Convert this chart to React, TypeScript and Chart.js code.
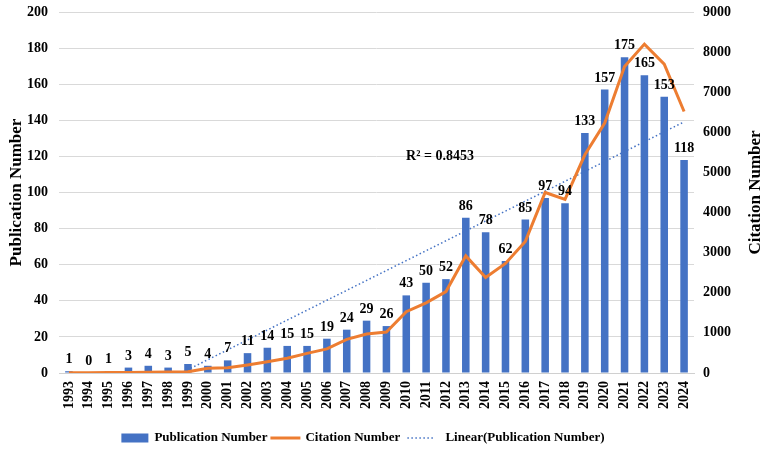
import React, { useEffect, useRef } from "react";
import { Chart, registerables } from "chart.js";

Chart.register(...registerables);

const years = [
  "1993", "1994", "1995", "1996", "1997", "1998", "1999", "2000",
  "2001", "2002", "2003", "2004", "2005", "2006", "2007", "2008",
  "2009", "2010", "2011", "2012", "2013", "2014", "2015", "2016",
  "2017", "2018", "2019", "2020", "2021", "2022", "2023", "2024",
];

const publications = [
  1, 0, 1, 3, 4, 3, 5, 4, 7, 11, 14, 15, 15, 19, 24, 29,
  26, 43, 50, 52, 86, 78, 62, 85, 97, 94, 133, 157, 175, 165, 153, 118,
];

const citations = [
  5, 5, 10, 15, 20, 25, 30, 120, 130, 200, 280, 370, 490, 600, 840, 970,
  1020, 1530, 1750, 2030, 2920, 2380, 2730, 3280, 4500, 4330, 5440, 6230, 7640, 8200, 7700, 6520,
];

const r2Label = "R² = 0.8453";

const FONT_FAMILY = '"Liberation Serif", "Times New Roman", serif';
const BLUE = "#4472C4";
const ORANGE = "#ED7D31";

// Least-squares linear trend of the publication series (what Excel's "Linear" trendline shows)
function linearTrend(values: number[]): number[] {
  const n = values.length;
  let sx = 0, sy = 0, sxy = 0, sxx = 0;
  values.forEach((y, i) => {
    const x = i + 1;
    sx += x; sy += y; sxy += x * y; sxx += x * x;
  });
  const slope = (n * sxy - sx * sy) / (n * sxx - sx * sx);
  const intercept = (sy - slope * sx) / n;
  return values.map((_, i) => intercept + slope * (i + 1));
}

const trend = linearTrend(publications);

const overlayPlugin = {
  id: "overlay",
  afterDatasetsDraw(chart: any) {
    const ctx = chart.ctx;
    const xScale = chart.scales.x;
    const yScale = chart.scales.y;
    const area = chart.chartArea;

    // data labels above bars
    const meta = chart.getDatasetMeta(0);
    ctx.save();
    ctx.font = `bold 14px ${FONT_FAMILY}`;
    ctx.fillStyle = "#000";
    ctx.textAlign = "center";
    ctx.textBaseline = "alphabetic";
    meta.data.forEach((bar: any, i: number) => {
      ctx.fillText(String(publications[i]), bar.x, bar.y - 8);
    });

    // R² label
    const x18 = xScale.getPixelForValue(18);
    const x19 = xScale.getPixelForValue(19);
    const rx = x18 + (x19 - x18) * 0.7;
    const ry = yScale.getPixelForValue(120);
    ctx.textBaseline = "middle";
    ctx.fillText(r2Label, rx, ry);

    // right axis title (reads bottom to top)
    ctx.save();
    ctx.translate(756, (area.top + area.bottom) / 2);
    ctx.rotate(-Math.PI / 2);
    ctx.font = `bold 17px ${FONT_FAMILY}`;
    ctx.textAlign = "center";
    ctx.textBaseline = "middle";
    ctx.fillText("Citation Number", 0, 0);
    ctx.restore();

    // legend
    ctx.font = `bold 13px ${FONT_FAMILY}`;
    const t1 = "Publication Number";
    const t2 = "Citation Number";
    const t3 = "Linear(Publication Number)";
    const w1 = ctx.measureText(t1).width;
    const w2 = ctx.measureText(t2).width;
    const w3 = ctx.measureText(t3).width;
    const total = 27 + 6 + w1 + 3 + 30 + 5 + w2 + 7 + 28 + 10 + w3;
    let lx = 363 - total / 2;
    const ly = 438;
    ctx.fillStyle = BLUE;
    ctx.fillRect(lx, ly - 4.5, 27, 9);
    lx += 27 + 6;
    ctx.fillStyle = "#000";
    ctx.textAlign = "left";
    ctx.textBaseline = "middle";
    ctx.fillText(t1, lx, ly);
    lx += w1 + 3;
    ctx.strokeStyle = ORANGE;
    ctx.lineWidth = 3;
    ctx.beginPath();
    ctx.moveTo(lx, ly);
    ctx.lineTo(lx + 30, ly);
    ctx.stroke();
    lx += 30 + 5;
    ctx.fillText(t2, lx, ly);
    lx += w2 + 7;
    ctx.strokeStyle = BLUE;
    ctx.lineWidth = 1.5;
    ctx.setLineDash([1.5, 2.5]);
    ctx.beginPath();
    ctx.moveTo(lx, ly);
    ctx.lineTo(lx + 28, ly);
    ctx.stroke();
    ctx.setLineDash([]);
    lx += 28 + 10;
    ctx.fillText(t3, lx, ly);
    ctx.restore();
  },
};

export default function App() {
  const canvasRef = useRef<HTMLCanvasElement | null>(null);

  useEffect(() => {
    const canvas = canvasRef.current;
    if (!canvas) return;
    const tickFont = { family: FONT_FAMILY, size: 14, weight: "bold" as const };
    const chart = new Chart(canvas, {
      type: "bar",
      data: {
        labels: years,
        datasets: [
          {
            type: "bar",
            label: "Publication Number",
            data: publications,
            backgroundColor: BLUE,
            borderWidth: 0,
            barPercentage: 0.38,
            categoryPercentage: 1,
            yAxisID: "y",
            order: 3,
          },
          {
            type: "line",
            label: "Citation Number",
            data: citations,
            borderColor: ORANGE,
            backgroundColor: ORANGE,
            borderWidth: 3,
            pointRadius: 0,
            tension: 0,
            yAxisID: "y1",
            order: 1,
          },
          {
            type: "line",
            label: "Linear(Publication Number)",
            data: trend,
            borderColor: BLUE,
            borderWidth: 1.5,
            borderDash: [1.5, 2.5],
            pointRadius: 0,
            tension: 0,
            yAxisID: "y",
            clip: 0,
            order: 2,
          },
        ] as any,
      },
      options: {
        animation: false,
        responsive: true,
        maintainAspectRatio: false,
        layout: { autoPadding: false, padding: { top: 12, bottom: 47, left: 0, right: 0 } },
        plugins: {
          legend: { display: false },
          tooltip: { enabled: false },
        },
        scales: {
          x: {
            offset: true,
            grid: { display: false, drawTicks: false },
            border: { display: true, color: "#d0d0d0", width: 1 },
            ticks: {
              font: tickFont,
              color: "#000",
              minRotation: 90,
              maxRotation: 90,
              padding: 8,
              autoSkip: false,
            },
            afterFit(scale: any) {
              scale.height = 44;
              scale.paddingLeft = 0;
              scale.paddingRight = 0;
            },
          },
          y: {
            position: "left",
            min: 0,
            max: 200,
            ticks: { stepSize: 20, font: tickFont, color: "#000", padding: 11 },
            grid: { color: "#d9d9d9", drawTicks: false },
            border: { display: false },
            title: {
              display: true,
              text: "Publication Number",
              font: { family: FONT_FAMILY, size: 17, weight: "bold" },
              color: "#000",
              padding: { top: 6, bottom: 0 },
            },
            afterFit(scale: any) {
              scale.width = 59;
              scale.paddingTop = 0;
              scale.paddingBottom = 0;
            },
          },
          y1: {
            position: "right",
            min: 0,
            max: 9000,
            ticks: {
              stepSize: 1000,
              font: tickFont,
              color: "#000",
              padding: 9,
              callback: (v: any) => String(v),
            },
            grid: { display: false, drawTicks: false },
            border: { display: false },
            afterFit(scale: any) {
              scale.width = 73;
              scale.paddingTop = 0;
              scale.paddingBottom = 0;
            },
          },
        },
      } as any,
      plugins: [overlayPlugin],
    });
    return () => chart.destroy();
  }, []);

  return (
    <div style={{ position: "fixed", left: 0, top: 0, width: 767, height: 464, background: "#fff" }}>
      <canvas ref={canvasRef} />
    </div>
  );
}
